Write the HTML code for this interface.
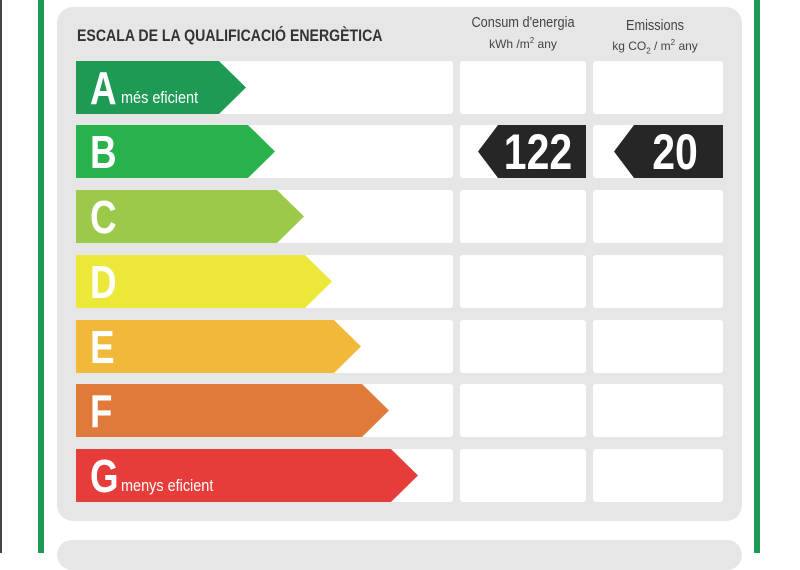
<!DOCTYPE html>
<html><head><style>
body{margin:0;width:800px;height:553px;background:#fff;position:relative;overflow:hidden;font-family:"Liberation Sans Narrow","Liberation Sans",sans-serif}
.a{position:absolute}
.panel{left:57px;top:7px;width:685px;height:514px;background:#e6e6e6;border-radius:16px}
.row{position:absolute;left:76px;width:377px;height:53px;background:#fff;border-radius:3px}
.c1{position:absolute;left:460px;width:126px;height:53px;background:#fff;border-radius:3px}
.c2{position:absolute;left:593px;width:130px;height:53px;background:#fff;border-radius:3px}
.L{position:absolute;color:#fff;font-weight:bold;font-size:46px;line-height:53px;left:14px;top:1px;transform:scaleX(.8);transform-origin:left}
.s{position:absolute;color:#fff;font-size:17px;bottom:6px;transform:scaleX(.85);transform-origin:left;white-space:nowrap}
</style></head><body>
<div class="a" style="left:0;top:0;width:2px;height:553px;background:#444"></div>
<div class="a" style="left:38px;top:0;width:6px;height:553px;background:#1f9a55"></div>
<div class="a" style="left:754px;top:0;width:6px;height:553px;background:#1f9a55"></div>
<div class="a panel"></div>
<div class="a" style="left:57px;top:540px;width:685px;height:30px;background:#e6e6e6;border-radius:16px"></div>
<div class="a" style="left:77px;top:26px;font-size:17px;font-weight:bold;color:#333;transform:scaleX(.83);transform-origin:left;white-space:nowrap">ESCALA DE LA QUALIFICACIÓ ENERGÈTICA</div>
<div class="a" style="left:460px;top:14px;width:126px;text-align:center;color:#444;font-size:15px;transform:scaleX(.85)">Consum d'energia</div>
<div class="a" style="left:460px;top:36px;width:126px;text-align:center;color:#444;font-size:12px">kWh /m<sup style="font-size:8px">2</sup> any</div>
<div class="a" style="left:593px;top:17px;width:124px;text-align:center;color:#444;font-size:15px;transform:scaleX(.85)">Emissions</div>
<div class="a" style="left:593px;top:38px;width:124px;text-align:center;color:#444;font-size:12px">kg CO<sub style="font-size:8px">2</sub> / m<sup style="font-size:8px">2</sup> any</div>

<div class="row" style="top:61px"></div><div class="c1" style="top:61px"></div><div class="c2" style="top:61px"></div>
<div class="row" style="top:125px"></div><div class="c1" style="top:125px"></div><div class="c2" style="top:125px"></div>
<div class="row" style="top:190px"></div><div class="c1" style="top:190px"></div><div class="c2" style="top:190px"></div>
<div class="row" style="top:255px"></div><div class="c1" style="top:255px"></div><div class="c2" style="top:255px"></div>
<div class="row" style="top:320px"></div><div class="c1" style="top:320px"></div><div class="c2" style="top:320px"></div>
<div class="row" style="top:384px"></div><div class="c1" style="top:384px"></div><div class="c2" style="top:384px"></div>
<div class="row" style="top:449px"></div><div class="c1" style="top:449px"></div><div class="c2" style="top:449px"></div>

<svg class="a" style="left:0;top:0" width="800" height="553">
<polygon points="76,61 219,61 246,87.5 219,114 76,114" fill="#1f9a55"/>
<polygon points="76,125 248,125 275,151.5 248,178 76,178" fill="#27b24b"/>
<polygon points="76,190 277,190 304,216.5 277,243 76,243" fill="#9bc94a"/>
<polygon points="76,255 305,255 332,281.5 305,308 76,308" fill="#ece83a"/>
<polygon points="76,320 334,320 361,346.5 334,373 76,373" fill="#f0b93a"/>
<polygon points="76,384 362,384 389,410.5 362,437 76,437" fill="#e07a3a"/>
<polygon points="76,449 391,449 418,475.5 391,502 76,502" fill="#e63c3a"/>
<polygon points="498,125 586,125 586,178 498,178 478,151.5" fill="#262626"/>
<polygon points="634,125 723,125 723,178 634,178 614,151.5" fill="#262626"/>
</svg>
<div class="a" style="left:76px;top:61px;width:200px;height:53px"><div class="L">A</div><div class="s" style="left:45px">més eficient</div></div>
<div class="a" style="left:76px;top:125px;width:200px;height:53px"><div class="L">B</div></div>
<div class="a" style="left:76px;top:190px;width:200px;height:53px"><div class="L">C</div></div>
<div class="a" style="left:76px;top:255px;width:200px;height:53px"><div class="L">D</div></div>
<div class="a" style="left:76px;top:320px;width:200px;height:53px"><div class="L">E</div></div>
<div class="a" style="left:76px;top:384px;width:200px;height:53px"><div class="L">F</div></div>
<div class="a" style="left:76px;top:449px;width:200px;height:53px"><div class="L">G</div><div class="s" style="left:45px">menys eficient</div></div>
<div class="a" style="left:490px;top:125px;width:96px;line-height:55px;text-align:center;color:#fff;font-weight:bold;font-size:50px;transform:scaleX(.82)">122</div>
<div class="a" style="left:630px;top:125px;width:90px;line-height:55px;text-align:center;color:#fff;font-weight:bold;font-size:50px;transform:scaleX(.82)">20</div>
<div class="a" style="left:336px;top:258px;font-size:26px;color:rgba(255,255,255,.55)">habitaclia</div>
</body></html>
